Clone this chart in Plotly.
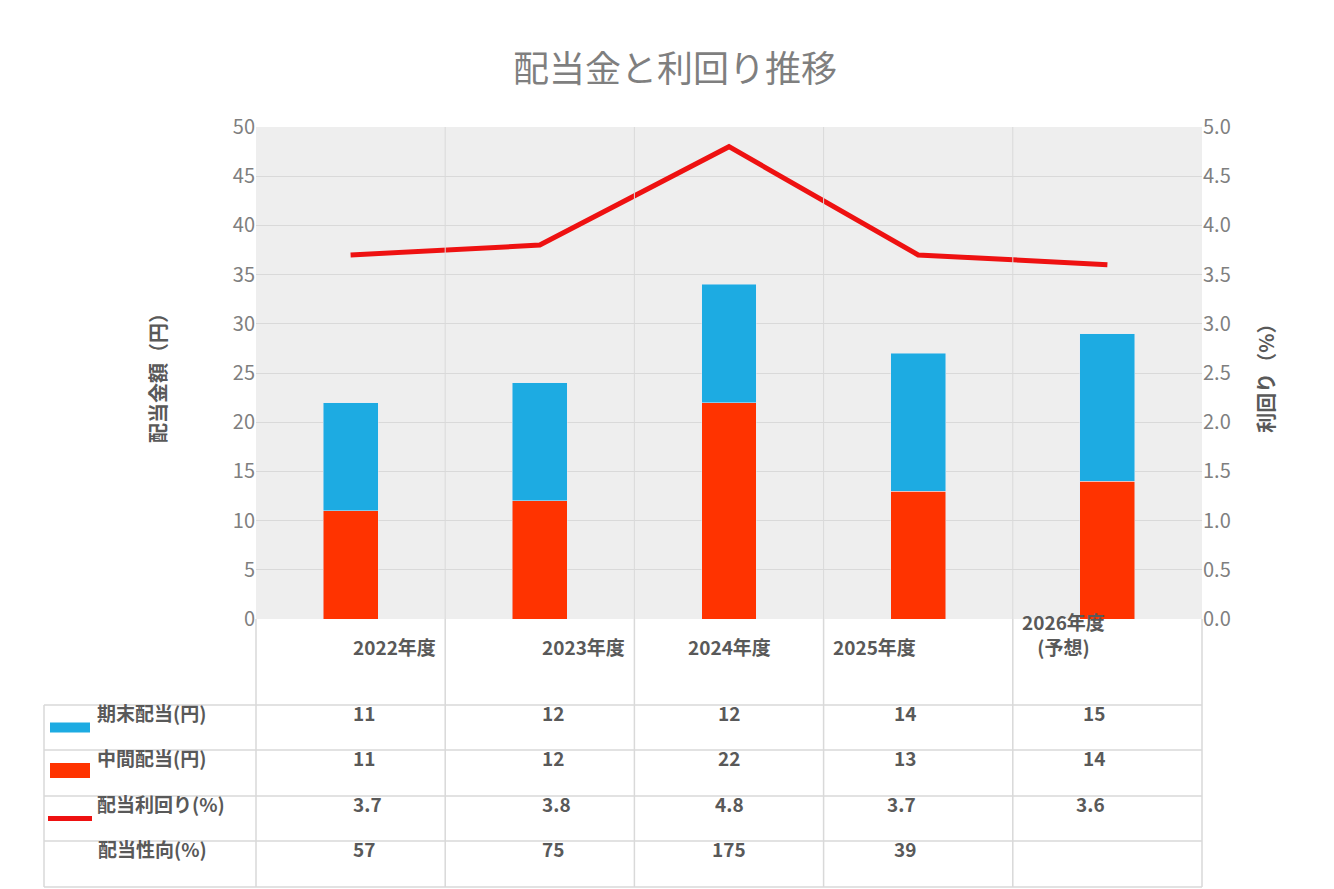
import plotly.graph_objects as go

years = ['2022年度', '2023年度', '2024年度', '2025年度', '2026年度<br>(予想)']
kimatsu = [11, 12, 12, 14, 15]
chukan = [11, 12, 22, 13, 14]
yield_pct = [3.7, 3.8, 4.8, 3.7, 3.6]
payout = ['57', '75', '175', '39', '']

FONT = 'Noto Sans CJK JP'
BLUE = '#1DABE2'
RED = '#FF3300'
LINE = '#EE1111'
GRID = '#D9D9D9'

W, H = 1334, 889
L, R, T, B = 248, 1194, 119, 611

def px(x):
    return (x - L) / (R - L)

def py(y):
    return (B - y) / (B - T)

x = list(range(len(years)))

fig = go.Figure()
fig.add_trace(go.Bar(x=x, y=chukan, marker_color=RED, width=0.29, name='中間配当(円)'))
fig.add_trace(go.Bar(x=x, y=kimatsu, marker_color=BLUE, width=0.29, name='期末配当(円)'))
fig.add_trace(go.Scatter(x=x, y=yield_pct, mode='lines', line=dict(color=LINE, width=5),
                         yaxis='y2', name='配当利回り(%)'))

fig.update_layout(
    width=W, height=H, barmode='stack', showlegend=False,
    paper_bgcolor='white', plot_bgcolor='#EEEEEE',
    margin=dict(l=L, r=W - R, t=T, b=H - B),
    font=dict(family=FONT, color='#595959'),
    title=dict(text='配当金と利回り推移', x=0.5, y=0.945, xanchor='center',
               font=dict(size=36, color='#7F7F7F')),
    xaxis=dict(range=[-0.5, 4.5], showticklabels=False, showgrid=False, zeroline=False),
    yaxis=dict(range=[0, 50], dtick=5, gridcolor=GRID, zeroline=False,
               tickfont=dict(size=20, color='#7F7F7F'),
               title=dict(text='<b>配当金額（円）</b>', font=dict(size=20, color='#595959'), standoff=60)),
    yaxis2=dict(range=[0, 5], dtick=0.5, tickformat='.1f', overlaying='y', side='right',
                showgrid=False, zeroline=False, tickfont=dict(size=20, color='#7F7F7F'),
                title=dict(text='<b>利回り（%）</b>', font=dict(size=20, color='#595959'), standoff=30)),
)

shapes = []
ann = []
# vertical category separators in plot area
for i in range(1, 5):
    xp = px(L + (R - L) * i / 5)
    shapes.append(dict(type='line', xref='paper', yref='paper', x0=xp, x1=xp, y0=0, y1=1,
                       line=dict(color=GRID, width=1)))

rows = [611, 697, 742, 788, 833, 879]
left = 36
# table grid
for i in range(6):
    xp = px(L + (R - L) * i / 5)
    shapes.append(dict(type='line', xref='paper', yref='paper', x0=xp, x1=xp,
                       y0=py(rows[0]), y1=py(rows[-1]), line=dict(color=GRID, width=1.5)))
shapes.append(dict(type='line', xref='paper', yref='paper', x0=px(left), x1=px(left),
                   y0=py(rows[1]), y1=py(rows[-1]), line=dict(color=GRID, width=1.5)))
for j, r in enumerate(rows[1:]):
    shapes.append(dict(type='line', xref='paper', yref='paper', x0=px(left), x1=1,
                       y0=py(r), y1=py(r), line=dict(color=GRID, width=1.5)))

for i, yr in enumerate(years):
    cx = px(L + (R - L) * (i + 0.5) / 5)
    ann.append(dict(x=cx, y=py((rows[0] + rows[1]) / 2), text='<b>' + yr + '</b>',
                    font=dict(size=19, color='#595959')))
    for j, vals in enumerate([kimatsu, chukan, yield_pct, payout]):
        v = vals[i]
        txt = f'{v:.1f}' if isinstance(v, float) else str(v)
        ann.append(dict(x=cx, y=py((rows[j + 1] + rows[j + 2]) / 2), text='<b>' + txt + '</b>',
                        font=dict(size=19, color='#595959')))

labels = ['期末配当(円)', '中間配当(円)', '配当利回り(%)', '配当性向(%)']
for j, lab in enumerate(labels):
    yc = (rows[j + 1] + rows[j + 2]) / 2
    ann.append(dict(x=px(87 if j < 3 else 88), y=py(yc), text='<b>' + lab + '</b>',
                    xanchor='left', font=dict(size=19, color='#595959')))
shapes.append(dict(type='rect', xref='paper', yref='paper', x0=px(42), x1=px(82),
                   y0=py(yc_ := (rows[1] + rows[2]) / 2 + 5), y1=py(yc_ - 10), fillcolor=BLUE, line_width=0))
yc2 = (rows[2] + rows[3]) / 2
shapes.append(dict(type='rect', xref='paper', yref='paper', x0=px(42), x1=px(82),
                   y0=py(yc2 + 5), y1=py(yc2 - 10), fillcolor=RED, line_width=0))
yc3 = (rows[3] + rows[4]) / 2
shapes.append(dict(type='line', xref='paper', yref='paper', x0=px(40), x1=px(84),
                   y0=py(yc3), y1=py(yc3), line=dict(color=LINE, width=5)))

for a in ann:
    a.update(xref='paper', yref='paper', showarrow=False)
fig.update_layout(shapes=shapes, annotations=ann)
fig.write_html('out.html')
